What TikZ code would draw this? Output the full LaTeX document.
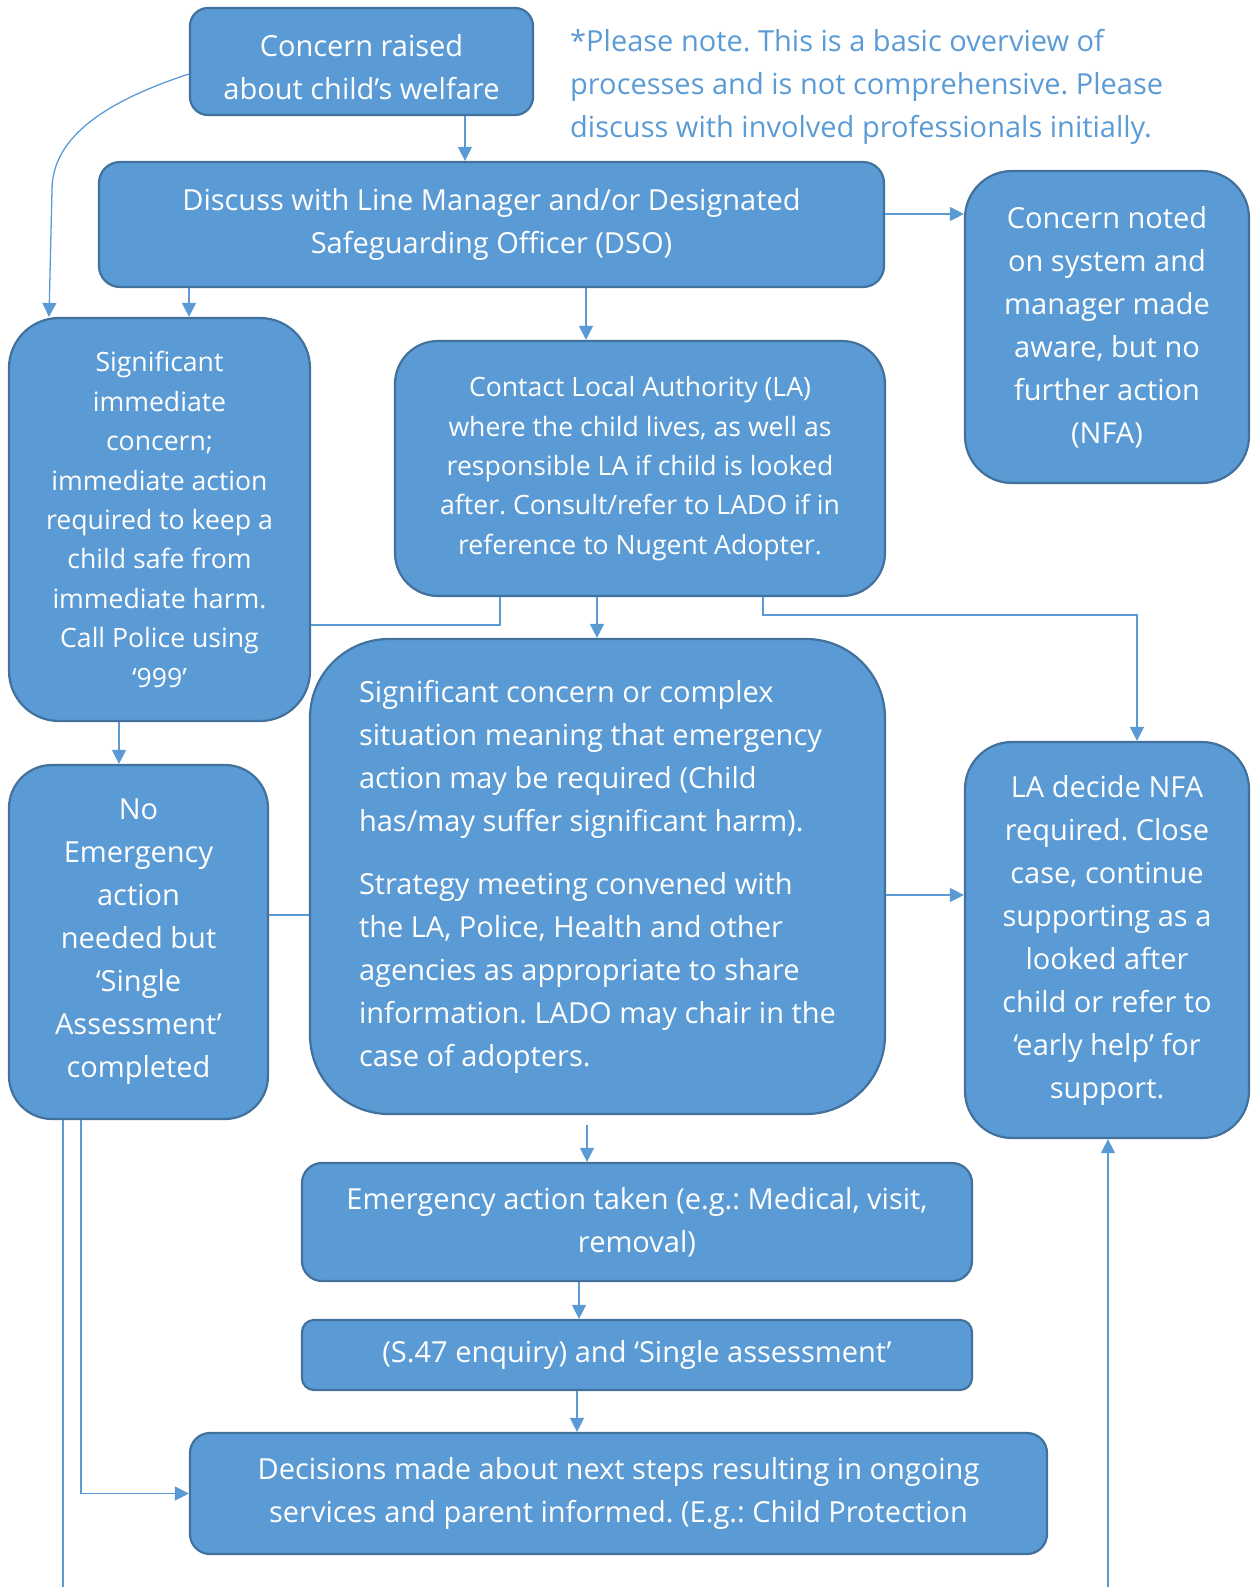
\documentclass[tikz,border=0pt]{standalone}
\usepackage{fontspec}
\setmainfont{Open Sans}
\frenchspacing
\usetikzlibrary{positioning}
\usetikzlibrary{arrows.meta}
\definecolor{boxblue}{HTML}{5B9BD5}
\definecolor{edgeblue}{HTML}{41719C}
\tikzset {
  % rounded flow chart boxes
  main/.style = {draw=edgeblue, fill=boxblue, line width=2.2pt, text=white, align=center, inner sep=0pt},
  % the two text sizes in the boxes
  bigtext/.style = {font=\fontsize{29}{43}\selectfont},
  smalltext/.style = {font=\fontsize{26.6}{39.4}\selectfont},
  % the note at the top
  note/.style = {text=boxblue, align=left, inner sep=0pt, font=\fontsize{29}{43}\selectfont},
  % connectors between boxes
  link/.style = {boxblue, line width=1.3pt},
  >={Triangle[length=14pt, width=14pt]},
}
\begin{document}
\begin{tikzpicture}[x=1pt, y=-1pt]
      \useasboundingbox (0,0) rectangle (1250,1587);

      \node[main, bigtext, minimum width=343pt, minimum height=107pt, rounded corners=18pt] (1) at (361.5,61.5) {\rule{0pt}{33pt}Concern raised\\about child’s welfare};
      \node[note, anchor=north west] (n) at (570,29) {*Please note. This is a basic overview of\\processes and is not comprehensive. Please\\discuss with involved professionals initially.};
      \node[main, bigtext, minimum width=785pt, minimum height=125pt, rounded corners=21pt] (2) at (491.5,224.5) {Discuss with Line Manager and/or Designated\\Safeguarding Officer (DSO)};
      \node[main, bigtext, minimum width=284pt, minimum height=312pt, rounded corners=47pt] (3) at (1107,327) {Concern noted\\on system and\\manager made\\aware, but no\\further action\\(NFA)};

      \node[main, smalltext, minimum width=301pt, minimum height=403pt, rounded corners=50pt] (4) at (159.5,519.5) {Significant\\immediate\\concern;\\immediate action\\required to keep a\\child safe from\\immediate harm.\\Call Police using\\‘999’};
      \node[main, smalltext, minimum width=490pt, minimum height=255pt, rounded corners=43pt] (5) at (640,468.5) {Contact Local Authority (LA)\\where the child lives, as well as\\responsible LA if child is looked\\after. Consult/refer to LADO if in\\reference to Nugent Adopter.};

      \node[main, bigtext, align=left, minimum width=575pt, minimum height=475pt, rounded corners=79pt] (6) at (597.5,876.5) {Significant concern or complex\\situation meaning that emergency\\action may be required (Child\\has/may suffer significant harm).\\[20pt]Strategy meeting convened with\\the LA, Police, Health and other\\agencies as appropriate to share\\information. LADO may chair in the\\case of adopters.};
      \node[main, bigtext, minimum width=259pt, minimum height=354pt, rounded corners=43pt] (7) at (138.5,942) {No\\Emergency\\action\\needed but\\‘Single\\Assessment’\\completed};
      \node[main, bigtext, minimum width=284pt, minimum height=396pt, rounded corners=47pt] (8) at (1107,940) {LA decide NFA\\required. Close\\case, continue\\supporting as a\\looked after\\child or refer to\\‘early help’ for\\support.};

      \node[main, bigtext, minimum width=670pt, minimum height=118pt, rounded corners=20pt] (9) at (637,1222) {Emergency action taken (e.g.: Medical, visit,\\removal)};
      \node[main, bigtext, minimum width=670pt, minimum height=70pt, rounded corners=12pt] (10) at (637,1355) {(S.47 enquiry) and ‘Single assessment’};
      \node[main, bigtext, minimum width=857pt, minimum height=121pt, rounded corners=20pt] (11) at (618.5,1493.5) {Decisions made about next steps resulting in ongoing\\services and parent informed. (E.g.: Child Protection};

      \coordinate (b1) at (63,1587);
      \coordinate (b2) at (1108,1587);

      \draw [link, ->] (465,0 |- 1.south) -- (465,0 |- 2.north);
      \draw [link, ->] (1.west |- 0,74) .. controls (110,100) and (52,135) .. (52,190) -- (49,0 |- 4.north);
      \draw [link, ->] (2.east |- 0,214) -- (3.west |- 0,214);
      \draw [link, ->] (189,0 |- 2.south) -- (189,0 |- 4.north);
      \draw [link, ->] (586,0 |- 2.south) -- (586,0 |- 5.north);

      \draw [link] (500,0 |- 5.south) |- (4.east |- 0,625);
      \draw [link, ->] (597,0 |- 5.south) -- (597,0 |- 6.north);
      \draw [link, ->] (763,0 |- 5.south) -- (763,615) -| (1137,0 |- 8.north);

      \draw [link, ->] (119,0 |- 4.south) -- (119,0 |- 7.north);
      \draw [link] (7.east |- 0,915) -- (6.west |- 0,915);
      \draw [link, ->] (6.east |- 0,895) -- (8.west |- 0,895);

      \draw [link, ->, shorten <=10pt] (587,0 |- 6.south) -- (587,0 |- 9.north);
      \draw [link, ->] (579,0 |- 9.south) -- (579,0 |- 10.north);
      \draw [link, ->] (577,0 |- 10.south) -- (577,0 |- 11.north);

      \draw [link, ->] (81,0 |- 7.south) |- (11.west);
      \draw [link] (63,0 |- 7.south) -- (b1);
      \draw [link, ->] (b2) -- (1108,0 |- 8.south);
    \end{tikzpicture}
\end{document}
